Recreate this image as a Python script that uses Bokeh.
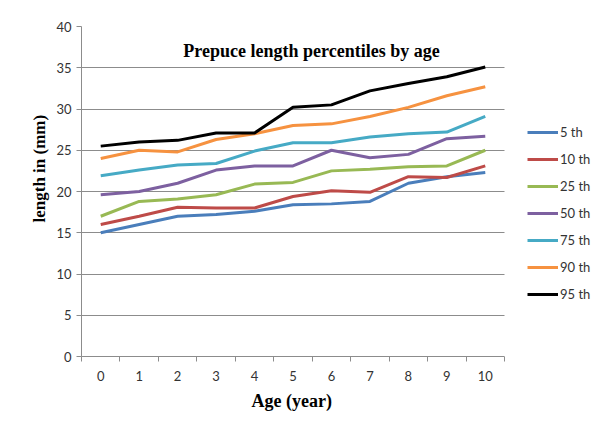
from bokeh.plotting import figure
from bokeh.models import (FixedTicker, Legend, LegendItem, Label, Range1d, BoxAnnotation, Title)
from bokeh.embed import file_html
from bokeh.resources import INLINE

ages = [0, 1, 2, 3, 4, 5, 6, 7, 8, 9, 10]
p5 = [15.0, 16.0, 17.0, 17.2, 17.6, 18.4, 18.5, 18.8, 21.0, 21.8, 22.3]
p10 = [16.0, 17.0, 18.1, 18.0, 18.0, 19.4, 20.1, 19.9, 21.8, 21.7, 23.1]
p25 = [17.0, 18.8, 19.1, 19.6, 20.9, 21.1, 22.5, 22.7, 23.0, 23.1, 25.0]
p50 = [19.6, 20.0, 21.0, 22.6, 23.1, 23.1, 25.0, 24.1, 24.5, 26.4, 26.7]
p75 = [21.9, 22.6, 23.2, 23.4, 24.9, 25.9, 25.9, 26.6, 27.0, 27.2, 29.1]
p90 = [24.0, 25.0, 24.8, 26.3, 27.0, 28.0, 28.2, 29.1, 30.2, 31.6, 32.7]
p95 = [25.5, 26.0, 26.2, 27.1, 27.1, 30.2, 30.5, 32.2, 33.1, 33.9, 35.1]
series_names = ["5 th", "10 th", "25 th", "50 th", "75 th", "90 th", "95 th"]
series_values = [p5, p10, p25, p50, p75, p90, p95]
colors = ["#4A7EBB", "#BE4B48", "#98B954", "#7D60A0", "#46AAC5", "#F69240", "#000000"]
y_ticks = [0, 5, 10, 15, 20, 25, 30, 35, 40]

# plot area spans 423 px for 11 categories; frame extended by 100 px on the right for the legend
x_end = 10.5 + 100 * 11 / 423
p = figure(frame_width=523, frame_height=330, output_backend="svg", toolbar_location=None,
           x_range=Range1d(-0.5, x_end), y_range=Range1d(0, 40),
           min_border_left=81, min_border_right=0, min_border_top=26, min_border_bottom=65)
p.outline_line_color = None
p.background_fill_color = "white"
p.border_fill_color = "white"

grid_col = "#8C8C8C"
p.xgrid.grid_line_color = None
p.ygrid.grid_line_color = grid_col
p.ygrid.grid_line_width = 1
p.ygrid.ticker = FixedTicker(ticks=y_ticks)

p.yaxis.ticker = FixedTicker(ticks=y_ticks)
p.xaxis.ticker = FixedTicker(ticks=ages, minor_ticks=[a - 0.5 for a in ages] + [10.5])
p.xaxis.bounds = (-0.5, 10.5)
for ax in (p.xaxis[0], p.yaxis[0]):
    ax.axis_line_color = grid_col
    ax.major_tick_line_color = grid_col
    ax.minor_tick_line_color = grid_col
    ax.major_label_text_font = "Lato"
    ax.major_label_text_font_size = "13px"
    ax.major_label_text_color = "#333333"
    ax.major_tick_in = 0
    ax.minor_tick_in = 0
p.yaxis.major_tick_out = 5
p.yaxis.minor_tick_out = 0
p.yaxis.major_label_standoff = 5
p.xaxis.major_tick_out = 0
p.xaxis.minor_tick_out = 5
p.xaxis.major_label_standoff = 9

ytitle = Title(text="length in (mm)", align="left", offset=134, text_font="Liberation Serif",
               text_font_style="bold", text_font_size="17px", text_color="black")
p.add_layout(ytitle, "left")
xtitle = Title(text="Age  (year)", align="left", offset=170, text_font="Liberation Serif",
               text_font_style="bold", text_font_size="18px", text_color="black")
p.add_layout(xtitle, "below")

items = []
for name, vals, c in zip(series_names, series_values, colors):
    r = p.line(ages, vals, line_color=c, line_width=3)
    items.append(LegendItem(label=name, renderers=[r]))

cover = BoxAnnotation(left=10.5, fill_color="white", fill_alpha=1, line_alpha=0)
p.add_layout(cover)

legend = Legend(items=items, location=(446, 52), orientation="vertical")
legend.padding = 0
legend.margin = 0
legend.border_line_color = None
legend.background_fill_alpha = 0
legend.glyph_width = 31
legend.glyph_height = 20
legend.label_height = 20
legend.spacing = 7
legend.label_standoff = 2
legend.label_text_font = "Lato"
legend.label_text_font_size = "13px"
legend.label_text_color = "#333333"
p.add_layout(legend, "center")

title = Label(x=311, y=50, x_units="canvas", y_units="canvas", text="Prepuce length percentiles by age",
              text_font="Liberation Serif", text_font_style="bold", text_font_size="18px",
              text_align="center", text_baseline="middle", text_color="black")
p.add_layout(title)

open("out.html", "w").write(file_html(p, INLINE))
